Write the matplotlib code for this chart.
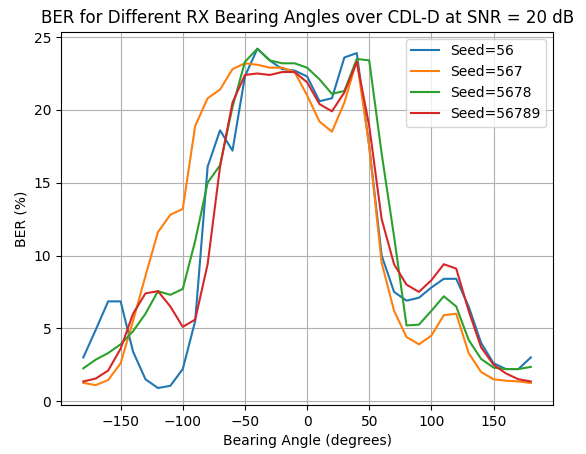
import matplotlib
matplotlib.use("Agg")
import matplotlib.pyplot as plt
import numpy as np

angles = list(range(-180, 181, 10))
seed56 = [3.0,4.9,6.85,6.85,3.4,1.5,0.9,1.05,2.2,5.5,16.1,18.6,17.2,22.3,24.2,23.4,22.8,22.7,22.3,20.6,20.8,23.6,23.9,17.5,10.0,7.5,6.9,7.1,7.8,8.4,8.4,6.5,4.0,2.6,2.2,2.2,3.0]
seed567 = [1.25,1.1,1.45,2.6,5.5,8.6,11.6,12.8,13.2,18.9,20.8,21.4,22.8,23.2,23.1,22.9,22.9,22.6,21.0,19.2,18.5,20.5,23.4,17.5,9.5,6.2,4.4,3.9,4.5,5.9,6.0,3.3,2.0,1.5,1.4,1.35,1.25]
seed5678 = [2.25,2.85,3.3,3.9,4.8,6.0,7.55,7.3,7.7,11.0,15.0,16.2,20.2,23.3,24.2,23.4,23.2,23.2,22.9,22.1,21.1,21.3,23.5,23.4,17.0,11.3,5.2,5.25,6.2,7.2,6.5,4.2,2.9,2.3,2.2,2.2,2.35]
seed56789 = [1.35,1.55,2.1,3.6,6.0,7.4,7.55,6.5,5.1,5.6,9.4,16.1,20.5,22.4,22.5,22.4,22.6,22.6,21.9,20.4,19.9,21.2,23.3,18.9,12.5,9.4,8.0,7.5,8.3,9.4,9.1,6.2,3.7,2.5,1.9,1.5,1.35]
labels = ["Seed=56", "Seed=567", "Seed=5678", "Seed=56789"]

fig, ax = plt.subplots(figsize=(5.86, 4.54), dpi=100)
for s, l in zip([seed56, seed567, seed5678, seed56789], labels):
    ax.plot(angles, s, label=l)
ax.set_title("BER for Different RX Bearing Angles over CDL-D at SNR = 20 dB")
ax.set_xlabel("Bearing Angle (degrees)")
ax.set_ylabel("BER (%)")
ax.set_xticks([-150, -100, -50, 0, 50, 100, 150])
ax.grid(True)
ax.legend(loc="upper right")
fig.subplots_adjust(left=0.104, right=0.944, top=0.93, bottom=0.108)
fig.savefig("out.png")
